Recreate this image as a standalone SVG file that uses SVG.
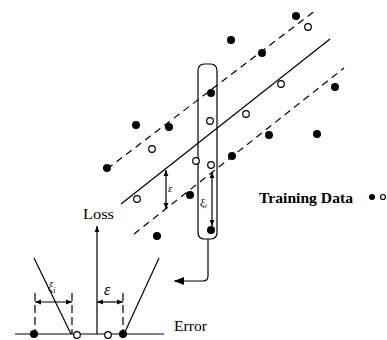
<svg xmlns="http://www.w3.org/2000/svg" width="387" height="340" viewBox="0 0 387 340">
<defs>
<marker id="ah" viewBox="0 0 10 10" refX="10" refY="5" markerWidth="6" markerHeight="6" orient="auto-start-reverse" markerUnits="userSpaceOnUse"><path d="M0,1 L10,5 L0,9 Z" fill="#000"/></marker>
<marker id="ahb" viewBox="0 0 10 10" refX="10" refY="5" markerWidth="10" markerHeight="10" orient="auto-start-reverse" markerUnits="userSpaceOnUse"><path d="M0,1 L10,5 L0,9 Z" fill="#000"/></marker>
</defs>
<style>
.f{fill:#000}
.o{fill:#fff;stroke:#000;stroke-width:1.2}
.ln{stroke:#000;stroke-width:1.2;fill:none}
.d{stroke:#000;stroke-width:1.2;fill:none;stroke-dasharray:7,5}
.t{font-family:"Liberation Serif",serif;fill:#000}
</style>
<rect width="387" height="340" fill="#fff"/>
<g id="connectors">
<line class="d" x1="107" y1="169" x2="316" y2="10"/>
<line class="ln" x1="121" y1="204" x2="330" y2="39"/>
<line class="d" x1="134" y1="234" x2="344" y2="68"/>
<line class="ln" x1="166" y1="170" x2="166" y2="209" marker-start="url(#ah)" marker-end="url(#ah)"/>
<line class="ln" x1="212" y1="172" x2="212" y2="226" marker-start="url(#ah)" marker-end="url(#ah)"/>
<path class="ln" d="M208,239 L208,276 Q208,281 203,281 L174,281" marker-end="url(#ahb)"/>
<line class="ln" x1="97" y1="334" x2="97" y2="226" marker-end="url(#ah)"/>
<line class="ln" x1="15" y1="334" x2="164" y2="334"/>
<line class="ln" x1="34" y1="258" x2="71" y2="334"/>
<line class="ln" x1="159" y1="258" x2="124" y2="334"/>
<line class="d" x1="35" y1="293" x2="35" y2="334" style="stroke-dasharray:8,4"/>
<line class="d" x1="72" y1="293" x2="72" y2="334" style="stroke-dasharray:8,4"/>
<line class="d" x1="123" y1="293" x2="123" y2="334" style="stroke-dasharray:8,4"/>
<line class="ln" x1="35" y1="302" x2="72" y2="302" marker-start="url(#ah)" marker-end="url(#ah)"/>
<line class="ln" x1="97" y1="302" x2="123" y2="302" marker-start="url(#ah)" marker-end="url(#ah)"/>
</g>
<g id="window"><rect class="ln" x="198" y="64" width="19" height="175" rx="6"/></g>
<g id="points">
<circle class="f" cx="296" cy="16" r="4"/>
<circle class="f" cx="231" cy="40" r="4"/>
<circle class="f" cx="262" cy="53" r="4"/>
<circle class="f" cx="211" cy="93" r="4"/>
<circle class="f" cx="335" cy="87" r="4"/>
<circle class="f" cx="136" cy="125" r="4"/>
<circle class="f" cx="169" cy="127" r="4"/>
<circle class="f" cx="269" cy="135" r="4"/>
<circle class="f" cx="317" cy="134" r="4"/>
<circle class="f" cx="232" cy="156" r="4"/>
<circle class="f" cx="107" cy="168" r="4"/>
<circle class="f" cx="190" cy="195" r="4"/>
<circle class="f" cx="157" cy="236" r="4"/>
<circle class="f" cx="211" cy="230" r="4"/>
<circle class="o" cx="308" cy="27" r="3.3"/>
<circle class="o" cx="281" cy="84" r="3.3"/>
<circle class="o" cx="246" cy="114" r="3.3"/>
<circle class="o" cx="210" cy="121" r="3.3"/>
<circle class="o" cx="152" cy="149" r="3.3"/>
<circle class="o" cx="196" cy="161" r="3.3"/>
<circle class="o" cx="211" cy="165" r="3.3"/>
<circle class="o" cx="137" cy="199" r="3.3"/>
</g>
<g id="loss-points">
<circle class="f" cx="34" cy="334" r="4"/>
<circle class="o" cx="77" cy="335" r="3.3"/>
<circle class="o" cx="108" cy="335" r="3.3"/>
<circle class="f" cx="123" cy="334" r="4"/>
</g>
<g id="labels">
<text class="t" x="168" y="192" font-size="11" font-style="italic">ε</text>
<text class="t" x="200" y="206" font-size="11" font-style="italic">ξ<tspan font-size="7" dy="2">i</tspan></text>
<text class="t" x="83" y="219" font-size="15" textLength="31" lengthAdjust="spacingAndGlyphs">Loss</text>
<text class="t" x="174" y="331" font-size="15" textLength="33" lengthAdjust="spacingAndGlyphs">Error</text>
<text class="t" x="104" y="295" font-size="16" font-style="italic">ε</text>
<text class="t" x="48" y="291" font-size="12" font-style="italic">ξ<tspan font-size="8" dy="2">i</tspan></text>
<text class="t" x="259" y="203" font-size="15" font-weight="bold" textLength="94" lengthAdjust="spacingAndGlyphs">Training Data</text>
<circle class="f" cx="372" cy="197" r="3"/>
<circle class="o" cx="383" cy="197" r="2.5"/>
</g>
</svg>
